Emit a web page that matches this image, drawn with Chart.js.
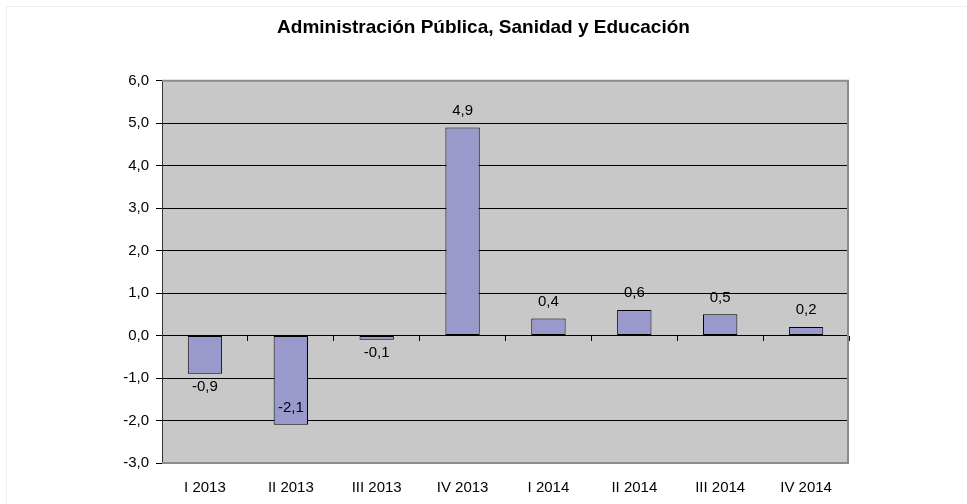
<!DOCTYPE html>
<html>
<head>
<meta charset="utf-8">
<script src="https://cdn.jsdelivr.net/npm/chart.js@4.4.1/dist/chart.umd.min.js"></script>
<style>
  html, body { margin: 0; padding: 0; background: #fff; }
  #wrap { width: 967px; height: 504px; position: relative; }
</style>
</head>
<body>
<div id="wrap"><canvas id="chart" width="967" height="504"></canvas></div>
<script>
const chartTitle = 'Administración Pública, Sanidad y Educación';
const categories = ['I 2013', 'II 2013', 'III 2013', 'IV 2013', 'I 2014', 'II 2014', 'III 2014', 'IV 2014'];
const values = [-0.9, -2.1, -0.1, 4.9, 0.4, 0.6, 0.5, 0.2];
const yMin = -3;
const yMax = 6;
const yStep = 1;

// where each value label sits: 'end' = outside the bar end, 'inside' = just inside it
const labelPlacement = ['end', 'inside', 'end', 'end', 'end', 'end', 'end', 'end'];

const FONT = "'Liberation Sans', Arial, Helvetica, sans-serif";

function fmt(v) {
  return v.toFixed(1).replace('.', ',');
}

const plotBackground = {
  id: 'plotBackground',
  beforeDraw(chart) {
    const { ctx, chartArea } = chart;
    ctx.save();
    // faint outer frame of the whole chart object
    ctx.strokeStyle = '#efefef';
    ctx.lineWidth = 1;
    ctx.strokeRect(6.5, 6.5, 1200, 1200);
    ctx.fillStyle = '#c8c8c8';
    ctx.fillRect(chartArea.left, chartArea.top, chartArea.right - chartArea.left, chartArea.bottom - chartArea.top);
    ctx.restore();
  },
  beforeDatasetsDraw(chart) {
    const { ctx, chartArea } = chart;
    ctx.save();
    ctx.strokeStyle = '#8c8c8c';
    ctx.lineWidth = 2;
    ctx.beginPath();
    ctx.moveTo(chartArea.left, chartArea.top);
    ctx.lineTo(chartArea.right - 1, chartArea.top);
    ctx.lineTo(chartArea.right - 1, chartArea.bottom);
    ctx.lineTo(chartArea.left, chartArea.bottom);
    ctx.stroke();
    ctx.restore();
  }
};

const valueLabels = {
  id: 'valueLabels',
  afterDatasetsDraw(chart) {
    const { ctx } = chart;
    const meta = chart.getDatasetMeta(0);
    ctx.save();
    ctx.font = '15px ' + FONT;
    ctx.fillStyle = '#000';
    ctx.textAlign = 'center';
    ctx.textBaseline = 'middle';
    meta.data.forEach((bar, i) => {
      const v = values[i];
      const inside = labelPlacement[i] === 'inside';
      let y;
      if (v >= 0) {
        y = bar.y - 17;
      } else {
        y = inside ? bar.y - 17 : bar.y + 13;
      }
      ctx.fillText(fmt(v), bar.x, y);
    });
    ctx.restore();
  }
};

const ctx = document.getElementById('chart').getContext('2d');
new Chart(ctx, {
  type: 'bar',
  data: {
    labels: categories,
    datasets: [{
      data: values,
      backgroundColor: '#9999cc',
      borderColor: '#000',
      borderWidth: 1,
      borderSkipped: false,
      barPercentage: 0.4,
      categoryPercentage: 1.0,
      xAxisID: 'x',
      yAxisID: 'y'
    }]
  },
  options: {
    responsive: false,
    animation: false,
    events: [],
    layout: {
      padding: 0
    },
    scales: {
      x: {
        type: 'category',
        position: 'bottom',
        offset: true,
        grid: { display: false, drawTicks: false },
        border: { display: false },
        ticks: {
          color: '#000',
          padding: 16,
          maxRotation: 0,
          font: { family: FONT, size: 15 }
        },
        afterFit: function(scale) {
          scale.height = 41;
        }
      },
      // category ticks along the zero line
      xZero: {
        type: 'category',
        position: { y: 0 },
        offset: true,
        grid: {
          display: true,
          offset: true,
          drawOnChartArea: false,
          drawTicks: true,
          tickLength: 5,
          tickColor: '#000',
          lineWidth: 1
        },
        border: { display: false },
        ticks: { display: false }
      },
      y: {
        min: yMin,
        max: yMax,
        grid: {
          color: function(c) {
            if (!c.tick) return '#000';
            return (c.tick.value === yMin || c.tick.value === yMax) ? '#8c8c8c' : '#000';
          },
          lineWidth: 1,
          tickLength: 6,
          tickColor: '#000'
        },
        border: { display: true, color: '#333', width: 1 },
        ticks: {
          stepSize: yStep,
          color: '#000',
          padding: 7,
          font: { family: FONT, size: 15 },
          callback: function(value) {
            return fmt(value);
          }
        },
        afterFit: function(scale) {
          scale.width = 162;
        }
      },
      // empty space on the right of the plot
      yRight: {
        type: 'linear',
        position: 'right',
        min: yMin,
        max: yMax,
        grid: { display: false, drawTicks: false },
        border: { display: false },
        ticks: { display: false },
        afterFit: function(scale) {
          scale.width = 118;
        }
      }
    },
    plugins: {
      legend: { display: false },
      tooltip: { enabled: false },
      title: {
        display: true,
        text: chartTitle,
        color: '#000',
        font: { family: FONT, size: 19, weight: 'bold' },
        padding: { top: 16, bottom: 42 }
      }
    }
  },
  plugins: [plotBackground, valueLabels]
});
</script>
</body>
</html>
